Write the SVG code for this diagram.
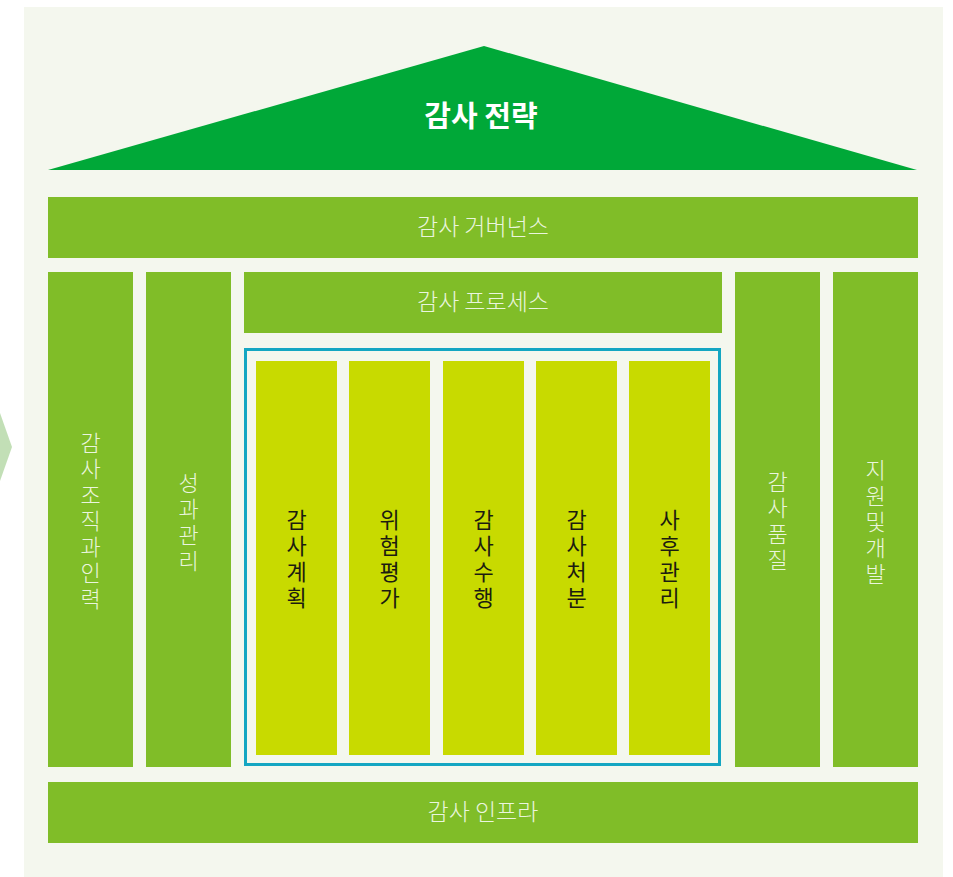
<svg xmlns="http://www.w3.org/2000/svg" width="953" height="877" viewBox="0 0 953 877">
<style>
.bar{fill:#80bd28}
.inner{fill:#c8da00}
.lt{font-family:"Noto Sans CJK KR","Noto Sans",sans-serif;font-size:22px;font-weight:300;fill:#eaf5de;text-anchor:middle}
.h{font-size:23px}
.dk{font-family:"Noto Sans CJK KR","Noto Sans",sans-serif;font-size:22px;font-weight:400;fill:#1c1c10;text-anchor:middle}
.title{font-family:"Noto Sans CJK KR","Noto Sans",sans-serif;font-size:29px;font-weight:700;fill:#ffffff;text-anchor:middle}
</style>
<rect x="0" y="0" width="953" height="877" fill="#ffffff"/>
<polygon points="0,413 12,447 0,481" fill="#c2dfb6"/>
<rect x="24" y="7" width="919" height="870" fill="#f4f7ee"/>
<g id="strategy">
<polygon points="48,170 484,46 917,170" fill="#00a838"/>
<text class="title" x="481" y="127">감사 전략</text>
</g>
<g id="governance">
<rect class="bar" x="48" y="197" width="870" height="61"/>
<text class="lt h" x="483" y="235">감사 거버넌스</text>
</g>
<g id="org">
<rect class="bar" x="48" y="272" width="85" height="495"/>
<text class="lt"><tspan x="90.5" y="451">감</tspan><tspan x="90.5" y="477">사</tspan><tspan x="90.5" y="503">조</tspan><tspan x="90.5" y="529">직</tspan><tspan x="90.5" y="555">과</tspan><tspan x="90.5" y="581">인</tspan><tspan x="90.5" y="607">력</tspan></text>
</g>
<g id="perf">
<rect class="bar" x="146" y="272" width="85" height="495"/>
<text class="lt"><tspan x="188.5" y="491">성</tspan><tspan x="188.5" y="517">과</tspan><tspan x="188.5" y="543">관</tspan><tspan x="188.5" y="569">리</tspan></text>
</g>
<g id="process">
<rect class="bar" x="244" y="272" width="478" height="61"/>
<text class="lt h" x="483" y="310">감사 프로세스</text>
</g>
<g id="process-box">
<rect x="245.5" y="349.5" width="474" height="415" fill="#f4f7ee" stroke="#14a6c2" stroke-width="3"/>
</g>
<g id="plan">
<rect class="inner" x="256" y="361" width="81" height="394"/>
<text class="dk"><tspan x="296.5" y="528">감</tspan><tspan x="296.5" y="554">사</tspan><tspan x="296.5" y="580">계</tspan><tspan x="296.5" y="606">획</tspan></text>
</g>
<g id="risk">
<rect class="inner" x="349" y="361" width="81" height="394"/>
<text class="dk"><tspan x="389.5" y="528">위</tspan><tspan x="389.5" y="554">험</tspan><tspan x="389.5" y="580">평</tspan><tspan x="389.5" y="606">가</tspan></text>
</g>
<g id="exec">
<rect class="inner" x="443" y="361" width="81" height="394"/>
<text class="dk"><tspan x="483.5" y="528">감</tspan><tspan x="483.5" y="554">사</tspan><tspan x="483.5" y="580">수</tspan><tspan x="483.5" y="606">행</tspan></text>
</g>
<g id="disposal">
<rect class="inner" x="536" y="361" width="81" height="394"/>
<text class="dk"><tspan x="576.5" y="528">감</tspan><tspan x="576.5" y="554">사</tspan><tspan x="576.5" y="580">처</tspan><tspan x="576.5" y="606">분</tspan></text>
</g>
<g id="followup">
<rect class="inner" x="629" y="361" width="81" height="394"/>
<text class="dk"><tspan x="669.5" y="528">사</tspan><tspan x="669.5" y="554">후</tspan><tspan x="669.5" y="580">관</tspan><tspan x="669.5" y="606">리</tspan></text>
</g>
<g id="quality">
<rect class="bar" x="735" y="272" width="85" height="495"/>
<text class="lt"><tspan x="777.5" y="490">감</tspan><tspan x="777.5" y="516">사</tspan><tspan x="777.5" y="542">품</tspan><tspan x="777.5" y="568">질</tspan></text>
</g>
<g id="support">
<rect class="bar" x="833" y="272" width="85" height="495"/>
<text class="lt"><tspan x="875.5" y="478">지</tspan><tspan x="875.5" y="504">원</tspan><tspan x="875.5" y="530">및</tspan><tspan x="875.5" y="556">개</tspan><tspan x="875.5" y="582">발</tspan></text>
</g>
<g id="infra">
<rect class="bar" x="48" y="782" width="870" height="61"/>
<text class="lt h" x="483" y="820">감사 인프라</text>
</g>
<g id="connectors"></g>
</svg>
